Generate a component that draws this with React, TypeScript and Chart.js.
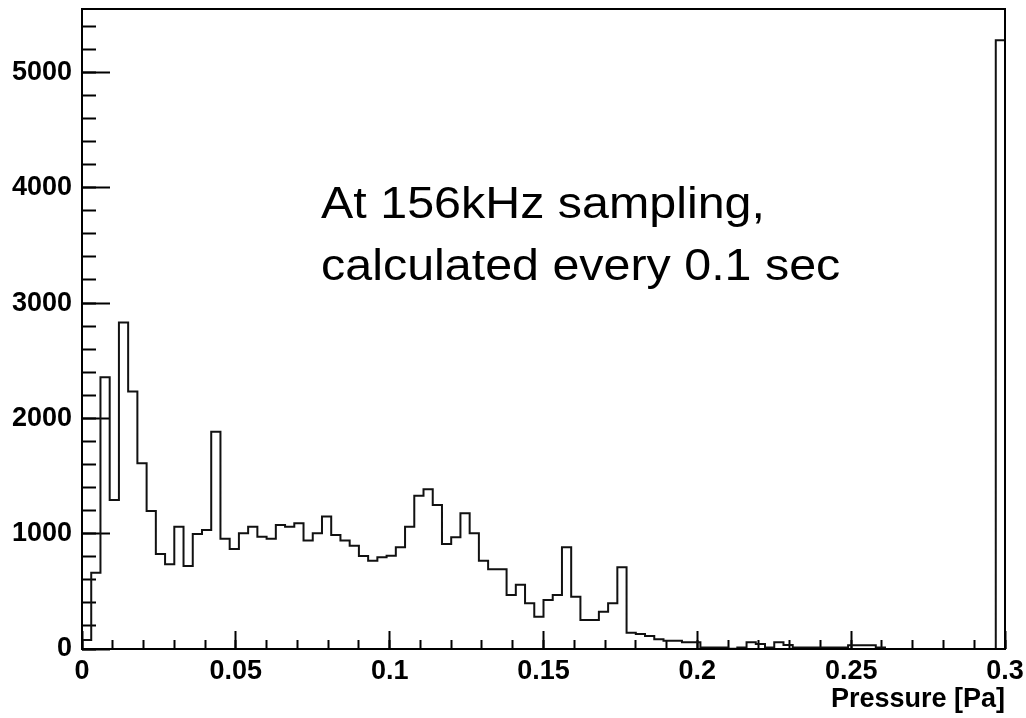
import React, { useEffect, useRef } from "react";
import { Chart, registerables } from "chart.js";

Chart.register(...registerables);

// Histogram: 100 bins of width 0.003 Pa from 0 to 0.3 Pa
const binWidth = 0.003;
const counts: number[] = [
  78, 662, 2357, 1293, 2831, 2232, 1611, 1197, 824, 735,
  1061, 720, 998, 1032, 1885, 957, 868, 1004, 1061, 974,
  957, 1076, 1061, 1091, 940, 1004, 1148, 989, 940, 896,
  807, 766, 796, 809, 882, 1061, 1330, 1386, 1249, 911,
  969, 1177, 1004, 766, 691, 691, 469, 558, 396, 280,
  425, 469, 882, 454, 252, 252, 324, 396, 709, 141,
  130, 113, 84, 72, 72, 58, 58, 14, 14, 14,
  3, 14, 58, 43, 14, 58, 35, 14, 14, 14,
  14, 14, 14, 32, 32, 32, 12, 0, 0, 0,
  0, 0, 0, 0, 0, 0, 0, 0, 0, 5280,
];

const xMin = 0;
const xMax = 0.3;
const yMin = 0;
const yMax = 5550;
const xMajorTicks = [0, 0.05, 0.1, 0.15, 0.2, 0.25, 0.3];
const xMinorStep = 0.01;
const yMajorTicks = [0, 1000, 2000, 3000, 4000, 5000];
const yMinorStep = 200;
const xTitle = "Pressure [Pa]";
const noteLines = ["At 156kHz sampling,", "calculated every 0.1 sec"];
const noteX = 0.0777;
const noteY = [3737, 3200];

const FONT = '"Liberation Sans", Arial, Helvetica, sans-serif';

function noPadding(s: any) {
  s.paddingTop = 0;
  s.paddingBottom = 0;
  s.paddingLeft = 0;
  s.paddingRight = 0;
}

export default function App() {
  const ref = useRef<HTMLCanvasElement>(null);

  useEffect(() => {
    const canvas = ref.current;
    if (!canvas) return;

    const n = counts.length;
    const points = [
      { x: 0, y: 0 },
      ...counts.map((c, i) => ({ x: i * binWidth, y: c })),
      { x: n * binWidth, y: counts[n - 1] },
      { x: n * binWidth, y: 0 },
    ];

    const framePlugin = {
      id: "frame",
      afterDatasetsDraw(chart: any) {
        const { ctx, chartArea } = chart;
        ctx.save();
        ctx.strokeStyle = "#000";
        ctx.lineWidth = 2;
        ctx.strokeRect(
          chartArea.left,
          chartArea.top,
          chartArea.right - chartArea.left,
          chartArea.bottom - chartArea.top
        );
        ctx.restore();
      },
    };

    const notePlugin = {
      id: "note",
      afterDraw(chart: any) {
        const { ctx } = chart;
        const xs = chart.scales.x;
        const ys = chart.scales.y;
        ctx.save();
        ctx.font = `44px ${FONT}`;
        ctx.fillStyle = "#000";
        ctx.textBaseline = "alphabetic";
        ctx.textAlign = "left";
        noteLines.forEach((line, i) => {
          const px = xs.getPixelForValue(noteX);
          const py = ys.getPixelForValue(noteY[i]);
          ctx.save();
          ctx.translate(px, py);
          ctx.scale(1.1, 1);
          ctx.fillText(line, 0, 0);
          ctx.restore();
        });
        ctx.restore();
      },
    };

    const tickFont = { family: FONT, size: 27, weight: "bold" as const };

    const chart = new Chart(canvas, {
      type: "line",
      data: {
        datasets: [
          {
            data: points,
            stepped: "before",
            borderColor: "#111",
            borderWidth: 2,
            pointRadius: 0,
            fill: false,
            xAxisID: "x",
            yAxisID: "y",
          },
        ],
      },
      options: {
        animation: false,
        responsive: false,
        layout: { padding: { top: 9, right: 21, left: 0, bottom: 0 } },
        plugins: {
          legend: { display: false },
          tooltip: { enabled: false },
        },
        scales: {
          x: {
            type: "linear",
            position: "bottom",
            min: xMin,
            max: xMax,
            weight: 1,
            bounds: "data",
            afterBuildTicks: (s: any) => {
              s.ticks = xMajorTicks.map((v) => ({ value: v }));
            },
            afterFit: (s: any) => {
              s.height = 69;
              noPadding(s);
            },
            border: { display: false },
            grid: {
              drawOnChartArea: false,
              drawTicks: true,
              tickLength: -18,
              tickWidth: 2,
              tickColor: "#000",
            },
            ticks: {
              autoSkip: false,
              maxRotation: 0,
              minRotation: 0,
              padding: 24,
              color: "#000",
              font: tickFont,
              callback: (v: any) => String(v),
            },
            title: {
              display: true,
              text: xTitle,
              align: "end",
              color: "#000",
              font: tickFont,
              padding: { top: 0, bottom: 2 },
            },
          },
          xMinor: {
            type: "linear",
            position: "bottom",
            min: xMin,
            max: xMax,
            weight: 0,
            bounds: "data",
            afterBuildTicks: (s: any) => {
              s.ticks = s.ticks.filter((t: any) => t.value >= xMin && t.value <= xMax);
            },
            afterFit: (s: any) => {
              s.height = 0;
              noPadding(s);
            },
            border: { display: false },
            grid: {
              drawOnChartArea: false,
              drawTicks: true,
              tickLength: -9,
              tickWidth: 2,
              tickColor: "#000",
            },
            ticks: { display: false, autoSkip: false, stepSize: xMinorStep },
          },
          y: {
            type: "linear",
            position: "left",
            min: yMin,
            max: yMax,
            weight: 1,
            bounds: "data",
            afterBuildTicks: (s: any) => {
              s.ticks = yMajorTicks.map((v) => ({ value: v }));
            },
            afterFit: (s: any) => {
              s.width = 82;
              noPadding(s);
            },
            border: { display: false },
            grid: {
              drawOnChartArea: false,
              drawTicks: true,
              tickLength: -28,
              tickWidth: 2,
              tickColor: "#000",
            },
            ticks: {
              autoSkip: false,
              padding: 38,
              color: "#000",
              font: tickFont,
              callback: (v: any) => String(v),
            },
          },
          yMinor: {
            type: "linear",
            position: "left",
            min: yMin,
            max: yMax,
            weight: 0,
            bounds: "data",
            afterBuildTicks: (s: any) => {
              s.ticks = s.ticks.filter((t: any) => Math.round(t.value) % yMinorStep === 0);
            },
            afterFit: (s: any) => {
              s.width = 0;
              noPadding(s);
            },
            border: { display: false },
            grid: {
              drawOnChartArea: false,
              drawTicks: true,
              tickLength: -14,
              tickWidth: 2,
              tickColor: "#000",
            },
            ticks: { display: false, autoSkip: false, stepSize: yMinorStep },
          },
        },
      } as any,
      plugins: [framePlugin, notePlugin],
    });

    return () => chart.destroy();
  }, []);

  return (
    <div style={{ position: "fixed", left: 0, top: 0, width: 1026, height: 718, background: "#fff" }}>
      <canvas ref={ref} width={1026} height={718} />
    </div>
  );
}
